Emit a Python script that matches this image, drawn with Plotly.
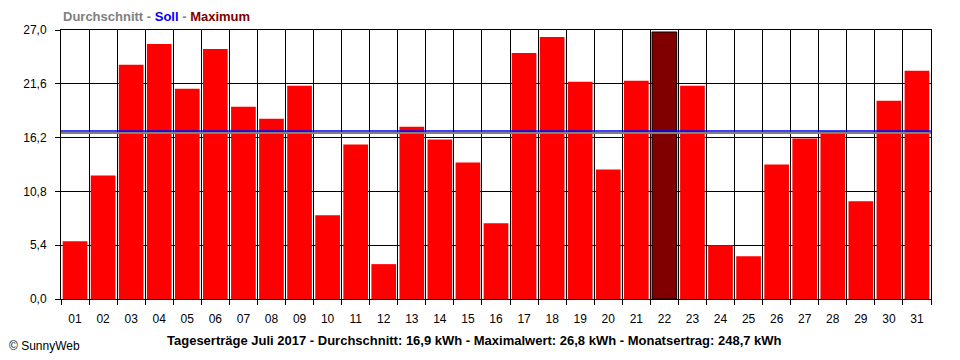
import plotly.graph_objects as go

days = [f"{i:02d}" for i in range(1, 32)]
values = [5.8, 12.4, 23.5, 25.6, 21.1, 25.1, 19.3, 18.1, 21.4, 8.4,
          15.5, 3.5, 17.3, 16.0, 13.7, 7.6, 24.7, 26.3, 21.8, 13.0,
          21.9, 26.8, 21.4, 5.4, 4.3, 13.5, 16.1, 16.8, 9.8, 19.9, 22.9]
avg_line = 16.65
soll_line = 16.85
y_ticks = [0.0, 5.4, 10.8, 16.2, 21.6, 27.0]
y_labels = ["0,0", "5,4", "10,8", "16,2", "21,6", "27,0"]
footer = "Tageserträge Juli 2017 - Durchschnitt: 16,9 kWh - Maximalwert: 26,8 kWh - Monatsertrag: 248,7 kWh"

xpos = list(range(1, 32))
max_v = max(values)
colors = ["#800000" if v == max_v else "#FF0000" for v in values]
line_colors = ["#000000" if v == max_v else "#FF0000" for v in values]

fig = go.Figure()
fig.add_trace(go.Bar(x=xpos, y=values,
                     marker=dict(color=colors, line=dict(color=line_colors,
                                                         width=[1 if v == max_v else 0 for v in values])),
                     width=0.88, hoverinfo="skip"))
fig.add_trace(go.Scatter(x=[0.5, 31.5], y=[avg_line, avg_line], mode="lines",
                         line=dict(color="#808080", width=2), hoverinfo="skip"))
fig.add_trace(go.Scatter(x=[0.5, 31.5], y=[soll_line, soll_line], mode="lines",
                         line=dict(color="#0000FF", width=1.5), hoverinfo="skip"))

font = "Liberation Sans, Arial, sans-serif"
fig.update_layout(
    width=960, height=360,
    margin=dict(l=53, r=37, t=22, b=69, autoexpand=False),
    plot_bgcolor="white", paper_bgcolor="white",
    showlegend=False,
    font=dict(family=font, size=12, color="black"),
    separators=",.",
    xaxis=dict(range=[0.5, 31.5], tickvals=xpos, ticktext=days, showgrid=False,
               ticks="", showline=True, linecolor="black", linewidth=1, mirror=True,
               zeroline=False, tickfont=dict(size=12), ticklabelstandoff=9, automargin=False,
               minor=dict(tick0=0.5, dtick=1, showgrid=True, gridcolor="black", gridwidth=1,
                          ticks="outside", ticklen=5, tickcolor="black")),
    yaxis=dict(range=[0, 27.0], tickvals=y_ticks, ticktext=y_labels, showgrid=True,
               gridcolor="black", gridwidth=1, ticks="outside", ticklen=5, tickcolor="black",
               showline=True, linecolor="black", linewidth=1, mirror=True, zeroline=False,
               tickfont=dict(size=12), automargin=False, ticklabelstandoff=6),
    annotations=[
        dict(xref="paper", yref="paper", x=0, y=1, yshift=4, xanchor="left", yanchor="bottom",
             showarrow=False, align="left",
             text="<b><span style='color:#808080'>Durchschnitt - </span><span style='color:#0000FF'>Soll</span>"
                  "<span style='color:#808080'> - </span><span style='color:#800000'>Maximum</span></b>",
             font=dict(size=13, family=font)),
        dict(xref="paper", yref="paper", x=0.475, y=0, yshift=-41, xanchor="center", yanchor="middle",
             showarrow=False, text="<b>" + footer + "</b>", font=dict(size=13, family=font, color="black")),
        dict(xref="paper", yref="paper", x=0, xshift=-54, y=0, yshift=-47, xanchor="left", yanchor="middle",
             showarrow=False, text="© SunnyWeb", font=dict(size=12, family=font, color="black")),
    ],
)
fig.write_html("out.html")
